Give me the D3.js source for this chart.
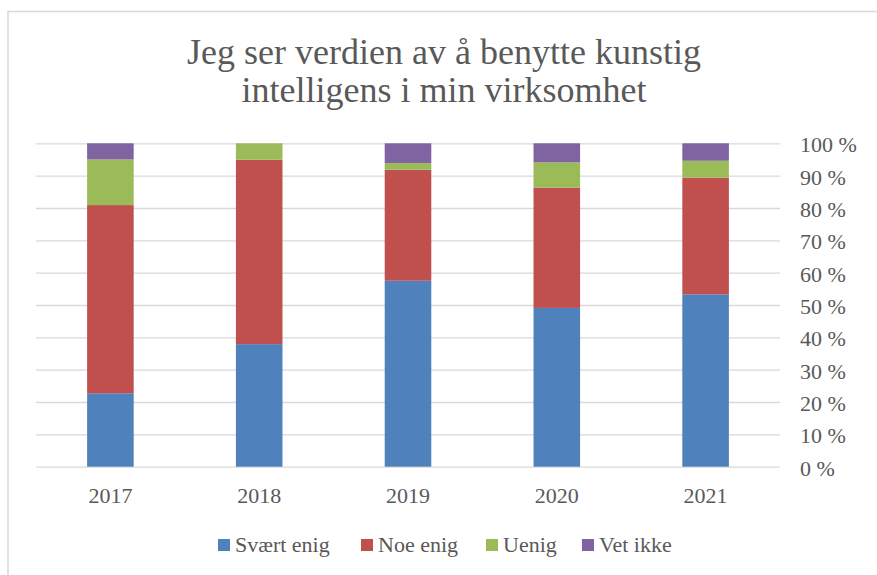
<!DOCTYPE html>
<html>
<head>
<meta charset="utf-8">
<script src="https://cdn.jsdelivr.net/npm/d3@7"></script>
<style>
html,body{margin:0;padding:0;background:#fff;}
svg{display:block;}
text{font-family:"Liberation Serif","DejaVu Serif",serif;fill:#595959;}
</style>
</head>
<body>
<svg id="chart" width="877" height="575"></svg>
<script>
const years = ["2017","2018","2019","2020","2021"];
const seriesNames = ["Svært enig","Noe enig","Uenig","Vet ikke"];
const seriesColors = ["#4F81BD","#C0504D","#9BBB59","#8064A2"];
const svaertEnig = [22.7, 37.9, 57.5, 49.1, 53.3];
const noeEnig    = [58.2, 57.0, 34.3, 37.2, 36.1];
const uenig      = [14.1, 5.1, 2.1, 7.8, 5.2];
const vetIkke    = [5.0, 0.0, 6.1, 5.9, 5.4];
const yTicks = [0,10,20,30,40,50,60,70,80,90,100];
const titleLines = ["Jeg ser verdien av å benytte kunstig","intelligens i min virksomhet"];

const seriesValues = [svaertEnig, noeEnig, uenig, vetIkke];
const table = years.map((y,i)=>{
  const o = {year:y};
  seriesNames.forEach((s,j)=>{o[s]=seriesValues[j][i];});
  return o;
});

const svg = d3.select("#chart");
const W = 877, H = 575;
const plot = {left:36, right:780, top:143.3, bottom:466.7};
const FONT = '"Liberation Serif","DejaVu Serif",serif';

// chart border
svg.append("rect").attr("x",8).attr("y",11.5).attr("width",W).attr("height",H)
  .attr("fill","#fff").attr("stroke","#d9d9d9").attr("stroke-width",1.5);

const x = d3.scaleBand().domain(years).range([plot.left, plot.right]).padding(0);
const y = d3.scaleLinear().domain([0,100]).range([plot.bottom, plot.top]);
const barW = x.bandwidth()*0.313;

// gridlines + right axis labels
const yAxis = d3.axisRight(y).tickValues(yTicks).tickSize(-(plot.right-plot.left)).tickFormat(d=>d+" %").tickPadding(20);
const gy = svg.append("g").attr("transform",`translate(${plot.right},0)`).call(yAxis);
gy.select(".domain").remove();
gy.selectAll(".tick line").attr("stroke","#d9d9d9").attr("stroke-width",1.3);
gy.selectAll(".tick text").attr("font-size",22).attr("fill","#595959")
  .attr("font-family",FONT).attr("x",20).attr("dy","0.38em");

// stacked bars
const stack = d3.stack().keys(seriesNames)(table);
svg.append("g").selectAll("g").data(stack).join("g")
  .attr("fill",(d,i)=>seriesColors[i])
  .selectAll("rect").data(d=>d).join("rect")
  .attr("x",d=>x(d.data.year)+x.bandwidth()/2-barW/2)
  .attr("width",barW)
  .attr("y",d=>y(d[1]))
  .attr("height",d=>Math.max(0,y(d[0])-y(d[1])));

// x axis labels
const xAxis = d3.axisBottom(x).tickSize(0).tickPadding(21);
const gx = svg.append("g").attr("transform",`translate(0,${plot.bottom})`).call(xAxis);
gx.select(".domain").remove();
gx.selectAll(".tick text").attr("font-size",22).attr("fill","#595959").attr("font-family",FONT);

// title
const t = svg.append("text").attr("text-anchor","middle").attr("font-size",36).attr("fill","#595959");
titleLines.forEach((l,i)=>{
  t.append("tspan").attr("x",444).attr("y",64+i*38.3).text(l);
});

// legend
const legendX = [218, 361, 486, 582];
const lg = svg.append("g");
seriesNames.forEach((s,i)=>{
  const g = lg.append("g").attr("transform",`translate(${legendX[i]},545)`);
  g.append("rect").attr("x",0).attr("y",-6).attr("width",12).attr("height",12).attr("fill",seriesColors[i]);
  g.append("text").attr("x",17).attr("y",0).attr("dy","0.34em").attr("font-size",22).text(s);
});
</script>
</body>
</html>
